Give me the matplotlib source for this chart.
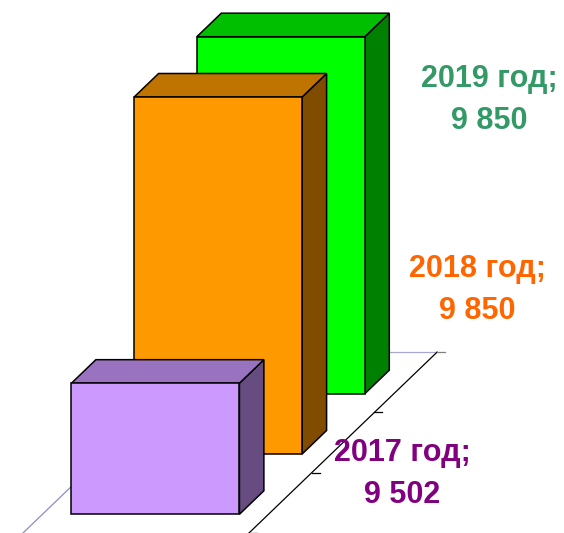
import matplotlib.pyplot as plt
from matplotlib.patches import Polygon

# Data
years = [2017, 2018, 2019]
values = [9502, 9850, 9850]
front_colors = ["#CC99FF", "#FF9900", "#00FF00"]
top_colors = ["#9973BF", "#BF7300", "#00BF00"]
side_colors = ["#664C80", "#804C00", "#008000"]
label_colors = ["#800080", "#FF6600", "#339966"]

# Oblique 3D layout (screen pixels)
VMIN = 9300          # bottom of value axis
ZSCALE = 357 / 550   # pixels per unit of value
ORIGIN = (23, 533)   # front-left corner of the floor
FLOOR_W = 226
DEPTH = (62.7, -60.3)  # one category step into depth
BAR_GAP = 29
BAR_FRONT, BAR_BACK = 0.31, 0.70
label_pos = [(402, 474), (477, 290), (489, 100)]


def proj(x, d, z):
    return (ORIGIN[0] + x + d * DEPTH[0],
            ORIGIN[1] + d * DEPTH[1] - z * ZSCALE)


fig = plt.figure(figsize=(5.64, 5.33), dpi=100)
ax = fig.add_axes([0, 0, 1, 1])
ax.set_xlim(0, 564)
ax.set_ylim(533, 0)
ax.axis("off")

n = len(years)

# floor edges (behind the bars)
ax.plot(*zip(proj(0, 0, 0), proj(0, n, 0)), color="#8C8CC4", lw=0.9, zorder=0.5)
ax.plot(*zip(proj(0, n, 0), proj(FLOOR_W, n, 0)), color="#A8A8D0", lw=0.9, zorder=0.5)
ax.plot(*zip(proj(FLOOR_W, 0, 0), proj(FLOOR_W, n, 0)), color="black", lw=0.9, zorder=0.5)
for k in range(n + 1):
    x0, y0 = proj(FLOOR_W, k, 0)
    ax.plot([x0, x0 + 8], [y0, y0], color="black" if k < n else "#808080",
            lw=0.9, zorder=0.5)

# bars, back to front
bw = FLOOR_W - 2 * BAR_GAP
for i in reversed(range(n)):
    h = values[i] - VMIN
    d0, d1 = i + BAR_FRONT, i + BAR_BACK
    x0, x1 = BAR_GAP, BAR_GAP + bw
    front = [proj(x0, d0, 0), proj(x1, d0, 0), proj(x1, d0, h), proj(x0, d0, h)]
    top = [proj(x0, d0, h), proj(x1, d0, h), proj(x1, d1, h), proj(x0, d1, h)]
    side = [proj(x1, d0, 0), proj(x1, d1, 0), proj(x1, d1, h), proj(x1, d0, h)]
    for pts, c in ((side, side_colors[i]), (top, top_colors[i]), (front, front_colors[i])):
        ax.add_patch(Polygon(pts, closed=True, facecolor=c, edgecolor="black",
                             lw=1.1, joinstyle="miter", zorder=1 + (n - i)))

# data labels
for i in range(n):
    txt = f"{years[i]} год;\n{values[i]:,}".replace(",", " ")
    ax.text(*label_pos[i], txt, color=label_colors[i], fontsize=22,
            fontweight="bold", family=["Liberation Sans", "DejaVu Sans"],
            ha="center", va="center", linespacing=1.5, zorder=10)

fig.savefig("out.png", dpi=100)
